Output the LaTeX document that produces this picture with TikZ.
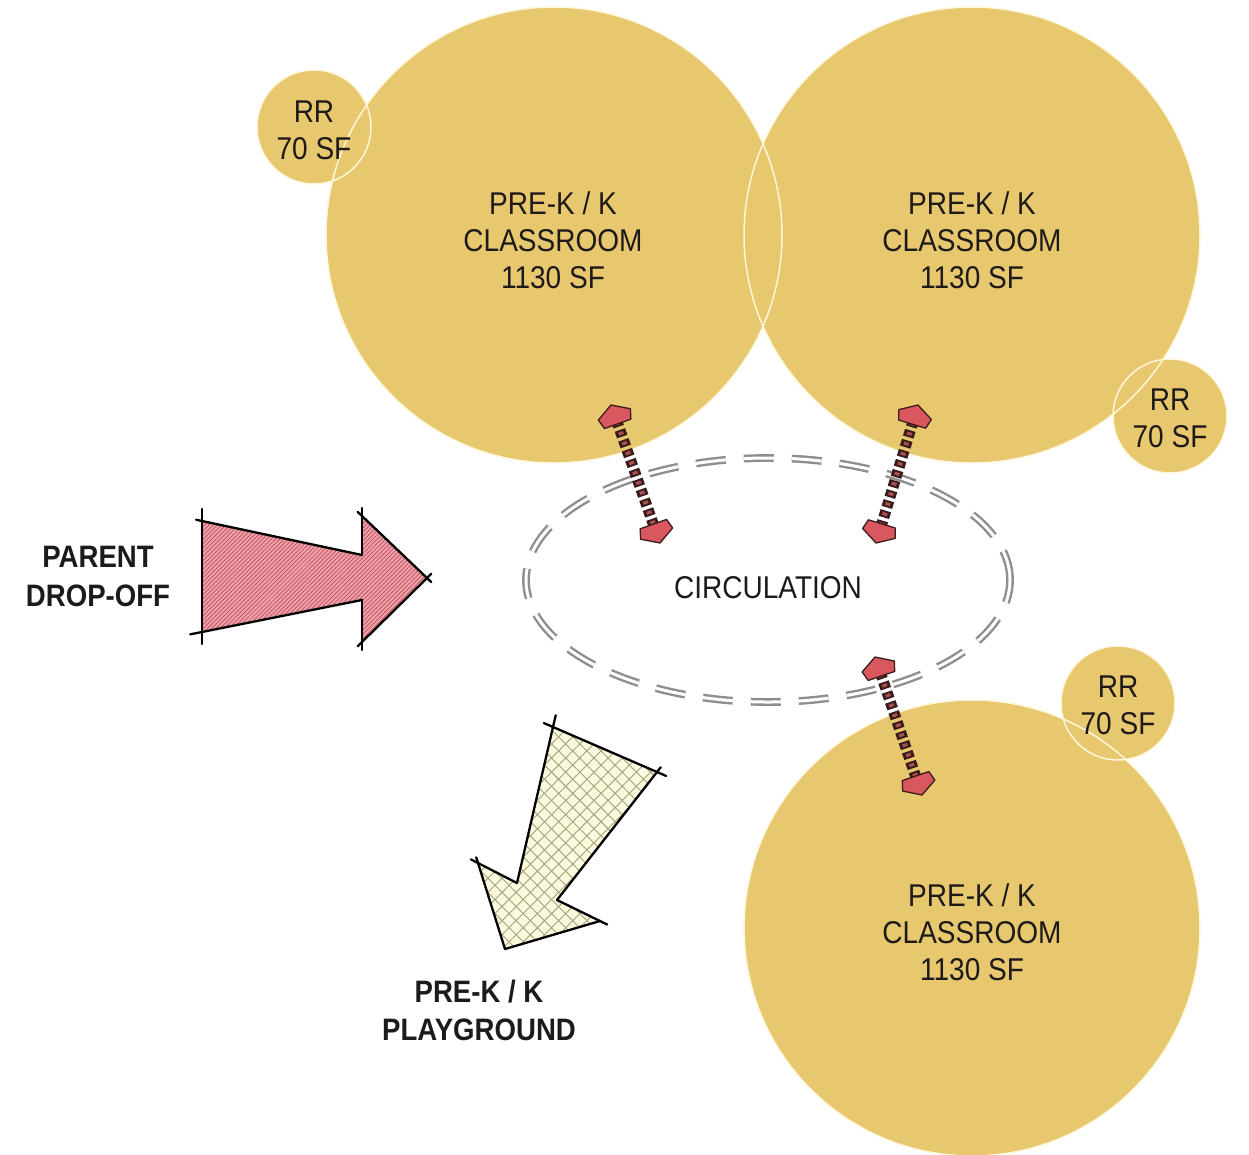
\documentclass[tikz,border=0pt]{standalone}
\usepackage{fontspec}
\setmainfont{Liberation Sans}[FakeStretch=0.89]
\usetikzlibrary{calc,patterns.meta,shapes.geometric}
\definecolor{room}{HTML}{E8C86E}
\definecolor{roomline}{HTML}{FFF6DC}
\definecolor{txt}{HTML}{1E1A1A}
\definecolor{headred}{HTML}{D9575F}
\definecolor{headline}{HTML}{3A1C1C}
\definecolor{shaftin}{HTML}{A9524F}
\definecolor{pinkfill}{HTML}{EDA3AB}
\definecolor{pinkline}{HTML}{C24A58}
\definecolor{playfill}{HTML}{FBFADF}
\definecolor{playline}{HTML}{A3A178}
\definecolor{dashgray}{HTML}{8E8E8E}
\tikzset{
  roomfill/.style={circle, fill=room, draw=none, inner sep=0pt},
  roomedge/.style={draw=roomline, line width=1.5pt},
  roomtext/.style={font=\fontsize{31.5}{37}\selectfont, text=txt, align=center, inner sep=0pt},
  boldtext/.style={font=\fontsize{31}{38.5}\selectfont\bfseries, text=txt, align=center, inner sep=0pt},
  circdash/.style={ellipse, draw=dashgray, line width=2.4pt, double=white, double distance=3pt,
    dash pattern=on 30pt off 18pt, minimum width=484pt, minimum height=244pt, inner sep=0pt},
  headst/.style={fill=headred, draw=headline, line width=1.3pt, line join=round},
  shaftout/.style={draw=headline, line width=11pt, dash pattern=on 7pt off 3.5pt},
  shaftinner/.style={draw=shaftin, line width=5pt, dash pattern=on 3pt off 7.5pt, dash phase=8.5pt},
  outl/.style={draw=black, line width=2.3pt, line cap=round},
  headf/.pic={\path[headst] (0,0) -- (-10,-17) -- (-20,-14) -- (-20,14) -- (-10,17) -- cycle;},
  headb/.pic={\path[headst] (0,0) -- (10,-17) -- (20,-14) -- (20,14) -- (10,17) -- cycle;},
}
\newcommand\dblarrow[2]{%
  \draw[shaftout, shorten <=16pt, shorten >=16pt] (#1) -- (#2);
  \draw[shaftinner, shorten <=16pt, shorten >=16pt] (#1) -- (#2);
  \path let \p1=($(#2)-(#1)$), \n1={atan2(\y1,\x1)} in
    (#2) pic[rotate=\n1]{headf} (#1) pic[rotate=\n1]{headb};
}
\begin{document}
\begin{tikzpicture}[x=1pt,y=-1pt]
\useasboundingbox (0,0) rectangle (1249,1154);
% rooms
\node[roomfill, minimum size=456pt] (c1) at (554,235) {};
\node[roomfill, minimum size=456pt] (c2) at (972,235) {};
\node[roomfill, minimum size=456pt] (c3) at (972,928) {};
\node[roomfill, minimum size=114pt] (r1) at (314,127) {};
\node[roomfill, minimum size=114pt] (r2) at (1170,416) {};
\node[roomfill, minimum size=114pt] (r3) at (1118,703) {};
\foreach \c/\r in {c1/228,c2/228,c3/228,r1/57,r2/57,r3/57}
  \draw[roomedge] (\c.center) circle[radius=\r];
% circulation
\node[circdash] (circ) at (768,580) {};
% parent drop-off arrow
\coordinate (p1) at (202,521);
\coordinate (p2) at (362,555);
\coordinate (p3) at (362,516);
\coordinate (p4) at (427,578);
\coordinate (p5) at (362,642);
\coordinate (p6) at (362,600);
\coordinate (p7) at (202,632);
\fill[pinkfill] (p1)--(p2)--(p3)--(p4)--(p5)--(p6)--(p7)--cycle;
\fill[pattern={Lines[angle=45,distance=3pt,line width=0.7pt]}, pattern color=pinkline]
  (p1)--(p2)--(p3)--(p4)--(p5)--(p6)--(p7)--cycle;
\draw[outl, shorten <=-6pt] (p1) -- (p2);
\draw[outl, shorten >=-8pt] (p2) -- (p3);
\draw[outl, shorten <=-6pt, shorten >=-6pt] (p3) -- (p4);
\draw[outl, shorten <=-6pt, shorten >=-6pt] (p4) -- (p5);
\draw[outl, shorten <=-8pt] (p5) -- (p6);
\draw[outl, shorten >=-12pt] (p6) -- (p7);
\draw[outl, shorten <=-12pt, shorten >=-12pt] (p7) -- (p1);
% playground arrow
\coordinate (q1) at (553,727);
\coordinate (q2) at (657,772);
\coordinate (q3) at (557,900);
\coordinate (q4) at (600,921);
\coordinate (q5) at (505,949);
\coordinate (q6) at (478,863);
\coordinate (q7) at (517,883);
\fill[playfill] (q1)--(q2)--(q3)--(q4)--(q5)--(q6)--(q7)--cycle;
\fill[pattern={Lines[angle=45,distance=10pt,line width=0.9pt]}, pattern color=playline]
  (q1)--(q2)--(q3)--(q4)--(q5)--(q6)--(q7)--cycle;
\fill[pattern={Lines[angle=-45,distance=10pt,line width=0.9pt]}, pattern color=playline]
  (q1)--(q2)--(q3)--(q4)--(q5)--(q6)--(q7)--cycle;
\draw[outl, shorten <=-10pt, shorten >=-10pt] (q1) -- (q2);
\draw[outl, shorten <=-6pt] (q2) -- (q3);
\draw[outl, shorten >=-8pt] (q3) -- (q4);
\draw[outl] (q4) -- (q5);
\draw[outl, shorten >=-6pt] (q5) -- (q6);
\draw[outl, shorten <=-8pt] (q6) -- (q7);
\draw[outl, shorten >=-12pt] (q7) -- (q1);
% double arrows
\coordinate (a1s) at (611,405); \coordinate (a1e) at (660,543);
\coordinate (a2s) at (918,405); \coordinate (a2e) at (876,543);
\coordinate (a3s) at (875,657); \coordinate (a3e) at (922,795);
\dblarrow{a1s}{a1e}
\dblarrow{a2s}{a2e}
\dblarrow{a3s}{a3e}
% texts
\node[roomtext] (t1) at (553,240) {PRE-K / K\\CLASSROOM\\1130 SF};
\node[roomtext] (t2) at (972,240) {PRE-K / K\\CLASSROOM\\1130 SF};
\node[roomtext] (t3) at (972,932) {PRE-K / K\\CLASSROOM\\1130 SF};
\node[roomtext] (tr1) at (314,130) {RR\\70 SF};
\node[roomtext] (tr2) at (1170,418) {RR\\70 SF};
\node[roomtext] (tr3) at (1118,705) {RR\\70 SF};
\node[roomtext] (tc) at (768,588) {CIRCULATION};
\node[boldtext] (tp) at (98,576.5) {PARENT\\DROP-OFF};
\node[boldtext] (tg) at (479,1010.5) {PRE-K / K\\PLAYGROUND};
\end{tikzpicture}
\end{document}
